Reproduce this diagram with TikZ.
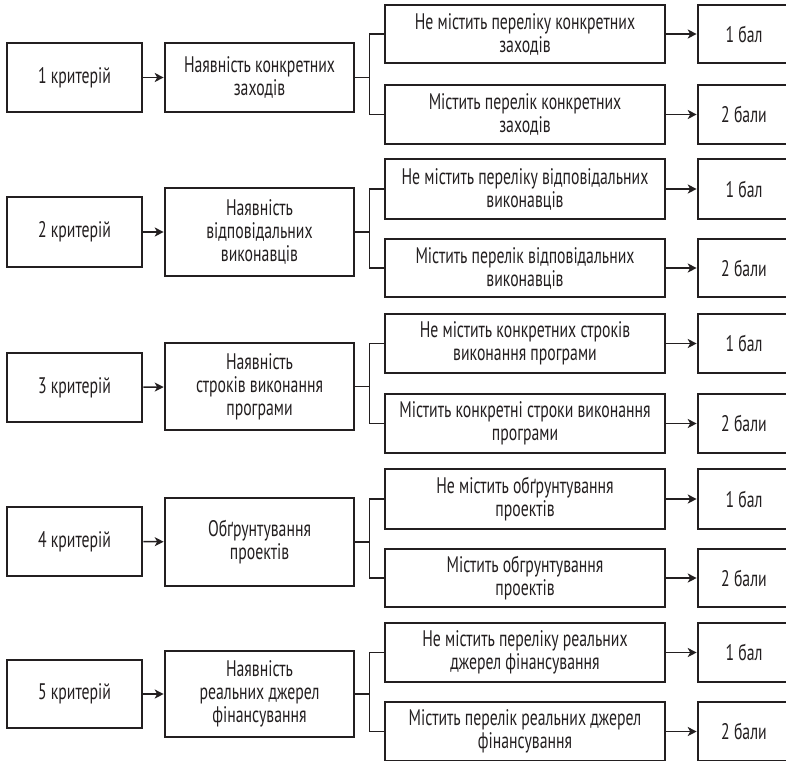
\documentclass[tikz,border=0pt]{standalone}
\usepackage{fontspec}
\setmainfont{PT Sans}[FakeStretch=0.70]
\usetikzlibrary{arrows.meta}
\definecolor{ink}{HTML}{231F20}
\tikzset{
  box/.style={draw=ink, line width=2.6pt, inner sep=0pt, align=center,
    text=ink, font=\fontsize{22.5}{23}\selectfont},
  crit/.style={box, minimum width=135pt},
  topic/.style={box, minimum width=189pt},
  opt/.style={box, minimum width=280pt},
  score/.style={box, minimum width=92pt},
  conn/.style={draw=ink, line width=1.5pt},
  arr/.style={conn, -{Stealth[length=9pt,width=9pt,inset=2.5pt]}},
}
\begin{document}
\begin{tikzpicture}[x=1pt,y=-1pt]
\useasboundingbox (0,0) rectangle (786,760);
\clip (0,0) rectangle (786,760);

% ---- criterion 1
\node[crit,  minimum height=69pt] (c1)  at (74.5,77.5) {1 критерій};
\node[topic, minimum height=69pt] (t1)  at (259.5,77.5) {Наявність конкретних\\заходів};
\node[opt,   minimum height=58pt] (o1a) at (525,34) {Не містить переліку конкретних\\заходів};
\node[opt,   minimum height=59pt] (o1b) at (525,114.5) {Містить перелік конкретних\\заходів};
\node[score, minimum height=58pt] (s1a) at (744,34) {1 бал};
\node[score, minimum height=59pt] (s1b) at (744,114.5) {2 бали};

% ---- criterion 2
\node[crit,  minimum height=70pt] (c2)  at (74.5,232) {2 критерій};
\node[topic, minimum height=88pt] (t2)  at (259.5,232) {Наявність\\відповідальних\\виконавців};
\node[opt,   minimum height=60pt] (o2a) at (525,189) {Не містить переліку відповідальних\\виконавців};
\node[opt,   minimum height=58pt] (o2b) at (525,268) {Містить перелік відповідальних\\виконавців};
\node[score, minimum height=60pt] (s2a) at (744,189) {1 бал};
\node[score, minimum height=58pt] (s2b) at (744,268) {2 бали};

% ---- criterion 3
\node[crit,  minimum height=69pt] (c3)  at (74.5,387.5) {3 критерій};
\node[topic, minimum height=87pt] (t3)  at (259.5,386.5) {Наявність\\строків виконання\\програми};
\node[opt,   minimum height=59pt] (o3a) at (525,343.5) {Не містить конкретних строків\\виконання програми};
\node[opt,   minimum height=59pt] (o3b) at (525,423.5) {Містить конкретні строки виконання\\програми};
\node[score, minimum height=59pt] (s3a) at (744,343.5) {1 бал};
\node[score, minimum height=59pt] (s3b) at (744,423.5) {2 бали};

% ---- criterion 4
\node[crit,  minimum height=69pt] (c4)  at (74.5,541.5) {4 критерій};
\node[topic, minimum height=88pt] (t4)  at (259.5,542) {Обґрунтування\\проектів};
\node[opt,   minimum height=60pt] (o4a) at (525,499) {Не містить обґрунтування\\проектів};
\node[opt,   minimum height=58pt] (o4b) at (525,578) {Містить обгрунтування\\проектів};
\node[score, minimum height=60pt] (s4a) at (744,499) {1 бал};
\node[score, minimum height=58pt] (s4b) at (744,578) {2 бали};

% ---- criterion 5
\node[crit,  minimum height=68pt] (c5)  at (74.5,694) {5 критерій};
\node[topic, minimum height=86pt] (t5)  at (259.5,694) {Наявність\\реальних джерел\\фінансування};
\node[opt,   minimum height=59pt] (o5a) at (525,652.5) {Не містить переліку реальних\\джерел фінансування};
\node[opt,   minimum height=59pt] (o5b) at (525,731.5) {Містить перелік реальних джерел\\фінансування};
\node[score, minimum height=59pt] (s5a) at (744,652.5) {1 бал};
\node[score, minimum height=59pt] (s5b) at (744,731.5) {2 бали};

% ---- connectors
\foreach \i in {1,...,5}{
  \coordinate (j\i) at ([xshift=14pt]t\i.east);
  \draw[arr] (c\i) -- (t\i);
  \draw[conn] (t\i.east) -- (j\i);
  \draw[conn] (o\i a.west) -| (j\i) |- (o\i b.west);
  \draw[arr] (o\i a) -- (s\i a);
  \draw[arr] (o\i b) -- (s\i b);
}
\end{tikzpicture}
\end{document}
